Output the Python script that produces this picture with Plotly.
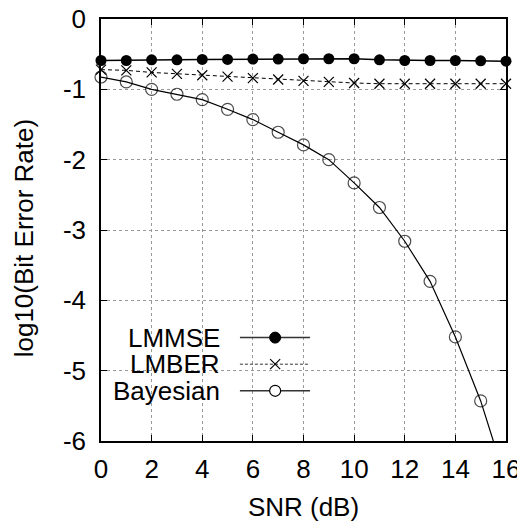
import plotly.graph_objects as go

snr = list(range(0, 17))
lmmse = [-0.59, -0.59, -0.58, -0.58, -0.575, -0.575, -0.57, -0.57, -0.565,
         -0.565, -0.565, -0.58, -0.59, -0.59, -0.59, -0.595, -0.60]
lmber = [-0.72, -0.73, -0.76, -0.78, -0.80, -0.82, -0.84, -0.86, -0.88,
         -0.895, -0.91, -0.92, -0.92, -0.92, -0.92, -0.92, -0.92]
bayes = [-0.825, -0.895, -1.0, -1.07, -1.147, -1.284, -1.43, -1.61, -1.79,
         -2.0, -2.33, -2.68, -3.16, -3.73, -4.52, -5.43, -6.57]
names = ["LMMSE", "LMBER", "Bayesian"]
xticks = [0, 2, 4, 6, 8, 10, 12, 14, 16]
yticks = [-6, -5, -4, -3, -2, -1, 0]

FONT = "Liberation Sans, Arial, sans-serif"
FS = 26

fig = go.Figure()
fig.add_trace(go.Scatter(
    x=snr, y=lmmse, mode="lines+markers", name=names[0], cliponaxis=False,
    line=dict(color="black", width=1.5),
    marker=dict(symbol="circle", size=11, color="black")))
fig.add_trace(go.Scatter(
    x=snr, y=lmber, mode="lines+markers", name=names[1], cliponaxis=False,
    line=dict(color="black", width=1, dash="4px,3px"),
    marker=dict(symbol="x-thin", size=10, line=dict(color="black", width=1.2))))
fig.add_trace(go.Scatter(
    x=snr, y=bayes, mode="lines", name=names[2],
    line=dict(color="black", width=1.2), showlegend=False))
fig.add_trace(go.Scatter(
    x=snr, y=bayes, mode="markers", name=names[2], cliponaxis=False,
    marker=dict(symbol="circle-open", size=[12 if v >= -6 else 0 for v in bayes],
                color="black", line=dict(width=1.2))))

# gnuplot-style key: label on the left, sample on the right
key_y = [0.245, 0.182, 0.119]
shapes = []
annotations = []
for i, nm in enumerate(names):
    yy = key_y[i]
    annotations.append(dict(xref="paper", yref="paper", x=0.298, y=yy, text=nm,
                            showarrow=False, xanchor="right", yanchor="middle",
                            font=dict(family=FONT, size=FS, color="black")))
    shapes.append(dict(type="line", xref="paper", yref="paper", x0=0.343, x1=0.516,
                       y0=yy, y1=yy,
                       line=dict(color="#333", width=1.5 if i != 1 else 1,
                                 dash="solid" if i != 1 else "3px,2px")))
xc = 0.430
shapes.append(dict(type="circle", xref="paper", yref="paper", xsizemode="pixel",
                   ysizemode="pixel", xanchor=xc, yanchor=key_y[0], x0=-5.5, x1=5.5,
                   y0=-5.5, y1=5.5, fillcolor="black", line=dict(color="black", width=1)))
shapes.append(dict(type="line", xref="paper", yref="paper", xsizemode="pixel",
                   ysizemode="pixel", xanchor=xc, yanchor=key_y[1], x0=-5, x1=5,
                   y0=-5, y1=5, line=dict(color="black", width=1.2)))
shapes.append(dict(type="line", xref="paper", yref="paper", xsizemode="pixel",
                   ysizemode="pixel", xanchor=xc, yanchor=key_y[1], x0=-5, x1=5,
                   y0=5, y1=-5, line=dict(color="black", width=1.2)))
shapes.append(dict(type="circle", xref="paper", yref="paper", xsizemode="pixel",
                   ysizemode="pixel", xanchor=xc, yanchor=key_y[2], x0=-5.5, x1=5.5,
                   y0=-5.5, y1=5.5, fillcolor="white", line=dict(color="black", width=1.2)))

# y-axis title placed as an annotation (gnuplot puts it further out)
annotations.append(dict(xref="paper", yref="paper", x=-0.188, y=0.48,
                        text="log10(Bit Error Rate)", textangle=-90, showarrow=False,
                        xanchor="center", yanchor="middle",
                        font=dict(family=FONT, size=FS, color="black")))

axis_common = dict(showline=True, linecolor="black", linewidth=1.5, mirror="ticks",
                   ticks="inside", ticklen=6, tickwidth=1, tickcolor="black",
                   showgrid=True, gridcolor="#999", griddash="dot", gridwidth=1,
                   zeroline=False, automargin=False, ticklabeloverflow="allow",
                   tickfont=dict(family=FONT, size=FS, color="black"))

# page body has an 8px margin, so the figure is 517 px and shifted accordingly
fig.update_layout(
    width=517, height=517,
    margin=dict(l=93, r=19, t=11, b=84),
    paper_bgcolor="white", plot_bgcolor="white",
    showlegend=False,
    font=dict(family=FONT, size=FS, color="black"),
    xaxis=dict(range=[0, 16], tickvals=xticks, ticktext=[str(v) for v in xticks],
               title=dict(text="SNR (dB)", font=dict(family=FONT, size=FS)),
               ticklabelstandoff=4, **axis_common),
    yaxis=dict(range=[-6, 0], tickvals=yticks, ticktext=[str(v) for v in yticks],
               ticklabelstandoff=8, **axis_common),
    shapes=shapes, annotations=annotations,
)

fig.write_html("out.html")
